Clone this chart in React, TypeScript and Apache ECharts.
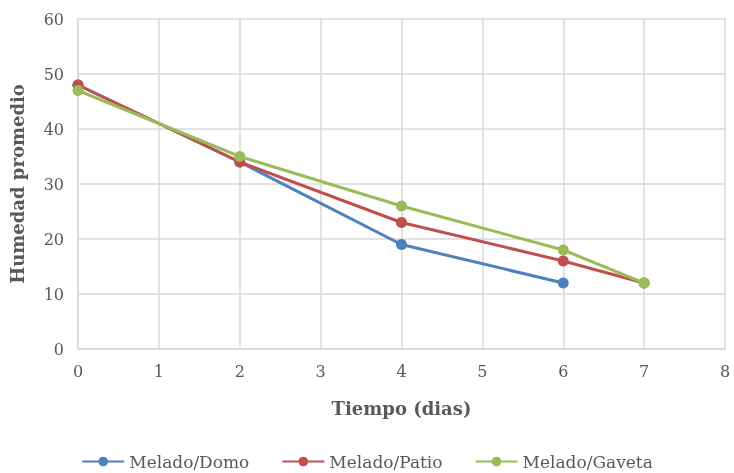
import React, { useEffect, useRef } from "react";
import * as echarts from "echarts";

const days = [0, 2, 4, 6, 7];
const seriesNames = ["Melado/Domo", "Melado/Patio", "Melado/Gaveta"];
const domo = [48, 34, 19, 12];
const patio = [48, 34, 23, 16, 12];
const gaveta = [47, 35, 26, 18, 12];
const colors = ["#4f81bd", "#c0504d", "#9bbb59"];

const FONT = "'DejaVu Serif', 'Liberation Serif', serif";

export default function App() {
  const ref = useRef<HTMLDivElement>(null);
  useEffect(() => {
    if (!ref.current) return;
    const chart = echarts.init(ref.current, null, { renderer: "svg" });
    const mk = (vals: number[]) => vals.map((v, i) => [days[i], v]);
    const all = [domo, patio, gaveta];
    chart.setOption({
      animation: false,
      textStyle: { fontFamily: FONT },
      grid: { left: 78, right: 9, top: 19, bottom: 124, containLabel: false, outerBoundsMode: "none" },
      legend: {
        bottom: -2,
        left: "center",
        itemWidth: 42,
        itemHeight: 12,
        itemGap: 32,
        textStyle: { fontFamily: FONT, fontSize: 17, color: "#595959" },
        data: seriesNames,
      },
      xAxis: {
        type: "value",
        min: 0,
        max: 8,
        interval: 1,
        name: "Tiempo (dias)",
        nameLocation: "middle",
        nameGap: 50,
        nameTextStyle: { fontFamily: FONT, fontSize: 18, fontWeight: "bold", color: "#595959" },
        axisLine: { show: true, lineStyle: { color: "#d9d9d9", width: 1.5 } },
        axisTick: { show: false },
        axisLabel: { fontFamily: FONT, fontSize: 16, color: "#595959", margin: 14 },
        splitLine: { show: true, lineStyle: { color: "#d9d9d9", width: 1.5 } },
      },
      yAxis: {
        type: "value",
        min: 0,
        max: 60,
        interval: 10,
        name: "Humedad promedio",
        nameLocation: "middle",
        nameGap: 52,
        nameTextStyle: { fontFamily: FONT, fontSize: 18, fontWeight: "bold", color: "#595959" },
        axisLine: { show: true, lineStyle: { color: "#d9d9d9", width: 1.5 } },
        axisTick: { show: false },
        axisLabel: { fontFamily: FONT, fontSize: 16, color: "#595959", margin: 14 },
        splitLine: { show: true, lineStyle: { color: "#d9d9d9", width: 1.5 } },
      },
      series: all.map((vals, i) => ({
        name: seriesNames[i],
        type: "line",
        data: mk(vals),
        symbol: "circle",
        symbolSize: 11,
        lineStyle: { width: 3, color: colors[i] },
        itemStyle: { color: colors[i] },
        z: i + 2,
      })),
    });
    return () => chart.dispose();
  }, []);
  return (
    <div
      ref={ref}
      style={{ width: 734, height: 473, position: "fixed", left: 0, top: 0 }}
    />
  );
}
